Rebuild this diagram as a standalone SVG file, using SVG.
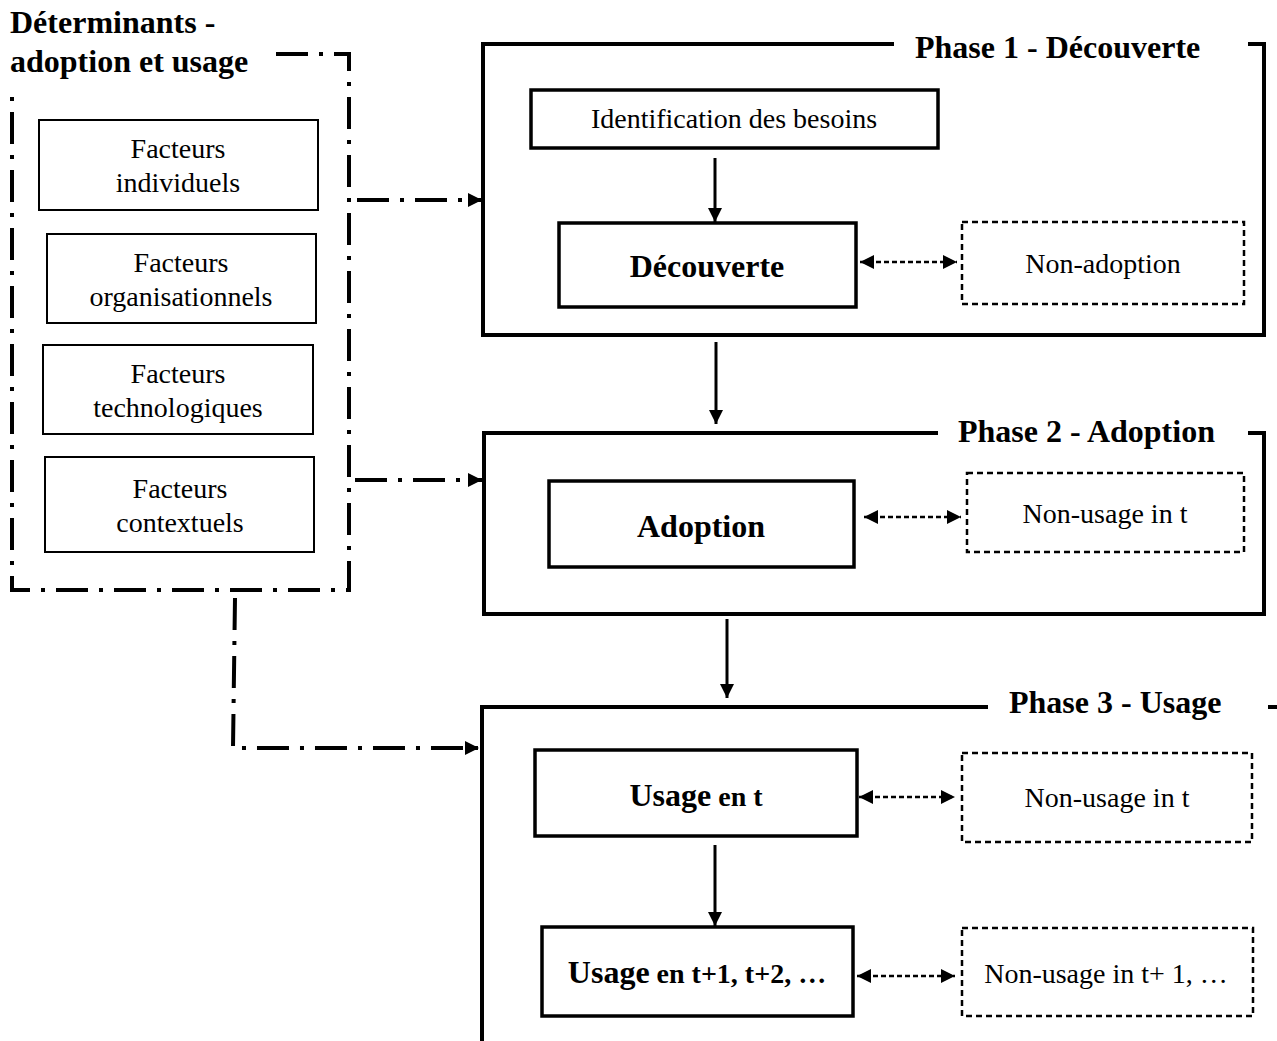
<svg xmlns="http://www.w3.org/2000/svg" width="1277" height="1041" viewBox="0 0 1277 1041">
<style>
text{font-family:"Liberation Serif","Times New Roman",serif;fill:#000}
.r{font-size:28px}
.b{font-size:32px;font-weight:bold}
.c{text-anchor:middle}
.phase{fill:none;stroke:#000;stroke-width:4}
.solid{fill:#fff;stroke:#000;stroke-width:3.5}
.thin{fill:#fff;stroke:#000;stroke-width:2}
.dash{fill:#fff;stroke:#000;stroke-width:2.5;stroke-dasharray:6 4}
.dd{fill:none;stroke:#000;stroke-width:4;stroke-dasharray:32 11 4 11}
.arr{stroke:#000;stroke-width:3;fill:none}
.darr{stroke:#000;stroke-width:2.5;stroke-dasharray:5 3;fill:none}
</style>
<defs>
<marker id="ah" markerUnits="userSpaceOnUse" markerWidth="14" markerHeight="14" refX="14" refY="7" orient="auto-start-reverse"><path d="M0,0 L14,7 L0,14 z" fill="#000"/></marker>
<marker id="sh" markerUnits="userSpaceOnUse" markerWidth="14" markerHeight="14" refX="14" refY="7" orient="auto-start-reverse"><path d="M0,0 L14,7 L0,14 z" fill="#000"/></marker>
</defs>

<g id="determinants">
<path class="dd" d="M276 54 H349 V590 H12 V88"/>
<text class="b" x="10" y="33">Déterminants -</text>
<text class="b" x="10" y="72">adoption et usage</text>
</g>
<g id="facteurs-individuels">
<rect class="thin" x="39" y="120" width="279" height="90"/>
<text class="r c" x="178" y="158">Facteurs</text>
<text class="r c" x="178" y="192">individuels</text>
</g>
<g id="facteurs-organisationnels">
<rect class="thin" x="47" y="234" width="269" height="89"/>
<text class="r c" x="181" y="272">Facteurs</text>
<text class="r c" x="181" y="306">organisationnels</text>
</g>
<g id="facteurs-technologiques">
<rect class="thin" x="43" y="345" width="270" height="89"/>
<text class="r c" x="178" y="383">Facteurs</text>
<text class="r c" x="178" y="417">technologiques</text>
</g>
<g id="facteurs-contextuels">
<rect class="thin" x="45" y="457" width="269" height="95"/>
<text class="r c" x="180" y="498">Facteurs</text>
<text class="r c" x="180" y="532">contextuels</text>
</g>

<g id="phase1">
<path class="phase" d="M894 44 H483 V335 H1264 V44 H1248"/>
<text class="b" x="915" y="58">Phase 1 - Découverte</text>
</g>
<g id="identification">
<rect class="solid" x="531" y="90" width="407" height="58"/>
<text class="r c" x="734" y="128">Identification des besoins</text>
</g>
<g id="decouverte">
<rect class="solid" x="559" y="223" width="297" height="84"/>
<text class="b c" x="707" y="277">Découverte</text>
</g>
<g id="non-adoption">
<rect class="dash" x="962" y="222" width="282" height="82"/>
<text class="r c" x="1103" y="273">Non-adoption</text>
</g>

<g id="phase2">
<path class="phase" d="M938 433 H484 V614 H1264 V433 H1248"/>
<text class="b" x="958" y="442">Phase 2 - Adoption</text>
</g>
<g id="adoption">
<rect class="solid" x="549" y="481" width="305" height="86"/>
<text class="b c" x="701" y="537">Adoption</text>
</g>
<g id="non-usage-t-2">
<rect class="dash" x="967" y="473" width="277" height="79"/>
<text class="r c" x="1105" y="523">Non-usage in t</text>
</g>

<g id="phase3">
<path class="phase" d="M988 707 H482 V1041"/>
<path class="phase" d="M1268 707 H1277"/>
<text class="b" x="1009" y="713">Phase 3 - Usage</text>
</g>
<g id="usage-t">
<rect class="solid" x="535" y="750" width="322" height="86"/>
<text class="b c" x="696" y="806">Usage<tspan font-size="28"> en t</tspan></text>
</g>
<g id="non-usage-t-3">
<rect class="dash" x="962" y="753" width="290" height="89"/>
<text class="r c" x="1107" y="807">Non-usage in t</text>
</g>
<g id="usage-t1">
<rect class="solid" x="542" y="927" width="311" height="89"/>
<text class="b c" x="697" y="983">Usage<tspan font-size="28"> en t+1, t+2, …</tspan></text>
</g>
<g id="non-usage-t1">
<rect class="dash" x="962" y="928" width="291" height="88"/>
<text class="r c" x="1106" y="983">Non-usage in t+ 1, …</text>
</g>

<g id="connectors">
<path class="dd" d="M357 200 H482" marker-end="url(#ah)"/>
<path class="dd" d="M355 480 H482" marker-end="url(#ah)"/>
<path class="dd" d="M235 598 L233 748 H479" marker-end="url(#ah)"/>
<path class="arr" d="M715 158 V222" marker-end="url(#ah)"/>
<path class="arr" d="M716 342 V424" marker-end="url(#ah)"/>
<path class="arr" d="M727 619 V698" marker-end="url(#ah)"/>
<path class="arr" d="M715 845 V926" marker-end="url(#ah)"/>
<path class="darr" d="M860 262 H957" marker-start="url(#sh)" marker-end="url(#sh)"/>
<path class="darr" d="M864 517 H961" marker-start="url(#sh)" marker-end="url(#sh)"/>
<path class="darr" d="M859 797 H955" marker-start="url(#sh)" marker-end="url(#sh)"/>
<path class="darr" d="M857 976 H955" marker-start="url(#sh)" marker-end="url(#sh)"/>
</g>
</svg>
